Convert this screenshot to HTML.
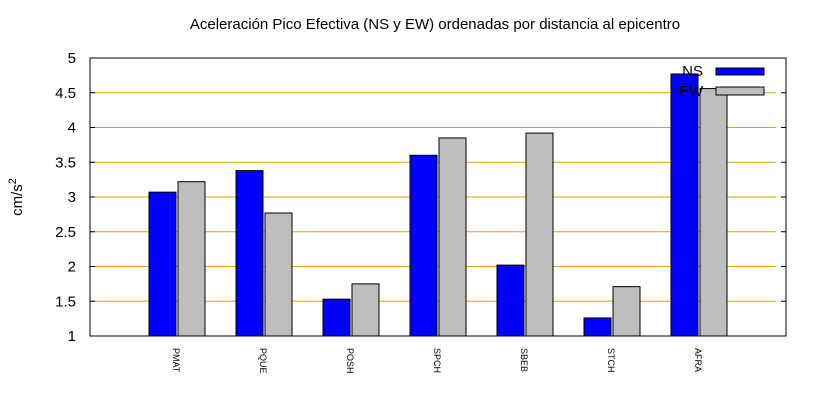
<!DOCTYPE html>
<html><head><meta charset="utf-8"><style>
body{margin:0;background:#fff}
svg{display:block;font-family:"Liberation Sans","DejaVu Sans",sans-serif}
</style></head><body>
<svg id="chart" width="820" height="400">
<text x="435" y="29" font-size="15" text-anchor="middle">Aceleración Pico Efectiva (NS y EW) ordenadas por distancia al epicentro</text>
<text transform="translate(22,197) rotate(-90)" font-size="15" text-anchor="middle">cm/s<tspan dy="-6" font-size="11">2</tspan></text>
<g id="grid"></g><g id="bars"></g><g id="axes"></g>
<g>
<text x="703" y="76" font-size="15" text-anchor="end">NS</text>
<rect x="716" y="68" width="48" height="7" fill="#0000ff" stroke="#000"/>
<text x="703" y="96" font-size="15" text-anchor="end">EW</text>
<rect x="716" y="87" width="48" height="8" fill="#bebebe" stroke="#000"/>
</g>
</svg>
<script>
const categories=["PMAT","PQUE","POSH","SPCH","SBEB","STCH","AFRA"];
const nsValues=[3.07,3.38,1.53,3.60,2.02,1.26,4.77];
const ewValues=[3.22,2.77,1.75,3.85,3.92,1.71,4.56];
const yTicks=[1,1.5,2,2.5,3,3.5,4,4.5,5];
const L=90,R=786,T=58,B=336,ymin=1,ymax=5;
const y=v=>B-(v-ymin)/(ymax-ymin)*(B-T);
const x=i=>L+(R-L)/(categories.length+1)*(i+1);
const NS="http://www.w3.org/2000/svg";
function mk(tag,attrs,parent){const e=document.createElementNS(NS,tag);for(const k in attrs)e.setAttribute(k,attrs[k]);parent.appendChild(e);return e;}
const grid=document.getElementById('grid'),bars=document.getElementById('bars'),axes=document.getElementById('axes');
yTicks.forEach(t=>{
 if(t>ymin&&t<ymax){const g=mk('line',{x1:L,x2:R-10,y1:y(t),y2:y(t),stroke:'#e8a000','stroke-width':1},grid);
 
 }
 const tk=mk('line',{x1:L,x2:L+5,y1:y(t),y2:y(t),stroke:'#000'},axes);
 
 
 const tk2=mk('line',{x1:R-5,x2:R,y1:y(t),y2:y(t),stroke:'#000'},axes);
 
 
 const lb=mk('text',{x:L-14,y:y(t)+5,'font-size':15,'text-anchor':'end'},axes);
 lb.textContent=t;
 
 
});
const bw=27;
categories.forEach((c,i)=>{
 const cx=x(i);
 const b1=mk('rect',{x:cx-bw-1,y:y(nsValues[i]),width:bw,height:B-y(nsValues[i]),fill:'#0000ff',stroke:'#000'},bars);
 
 
 const b2=mk('rect',{x:cx+1,y:y(ewValues[i]),width:bw,height:B-y(ewValues[i]),fill:'#bebebe',stroke:'#000'},bars);
 
 
 const lb=mk('text',{transform:`translate(${cx-4},348) rotate(90)`,'font-size':9},axes);
 lb.textContent=c;
 
 
});
const fr=mk('rect',{x:L,y:T,width:R-L,height:B-T,fill:'none',stroke:'#000'},axes);


</script>
</body></html>
